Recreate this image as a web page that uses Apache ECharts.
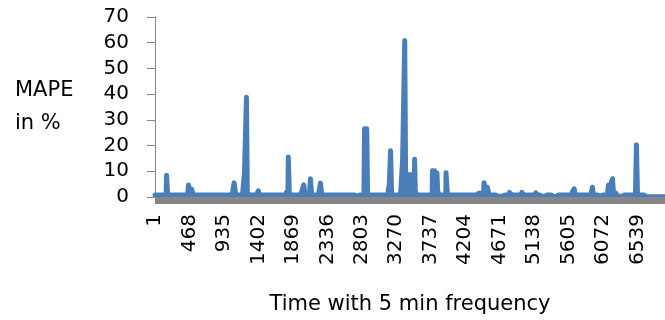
<!DOCTYPE html>
<html>
<head>
<meta charset="utf-8">
<script src="https://cdn.jsdelivr.net/npm/echarts@6/dist/echarts.min.js"></script>
<style>
    html, body { margin: 0; padding: 0; background: #fff; }
    #chart { width: 665px; height: 320px; }
</style>
</head>
<body>
<div id="chart"></div>
<script>
// number of 5-minute samples on the x axis
var pointCount = 6912;
// usual MAPE level between the peaks
var baseValue = 0.75;
// peaks and dips: sample index range (0-based) and value
var runStart = [156, 454, 464, 805, 1050, 1072, 1212, 1239, 1255, 1400, 1780, 1806, 1990, 2016, 2106, 2242, 2730, 2839, 3175, 3192, 3355, 3384, 3396, 3518, 3527, 3760, 3791, 3830, 3944, 4380, 4459, 4474, 4640, 4805, 4972, 5160, 5230, 5395, 5655, 5681, 5928, 6020, 6146, 6200, 6213, 6265, 6524, 6650];
var runEnd   = [170, 463, 518, 820, 1071, 1094, 1238, 1250, 1280, 1415, 1800, 1820, 2015, 2032, 2122, 2257, 2760, 2880, 3191, 3206, 3383, 3395, 3517, 3526, 3545, 3790, 3829, 3850, 3962, 4430, 4473, 4527, 4720, 4830, 4998, 5188, 5280, 5440, 5680, 5695, 5942, 6060, 6199, 6212, 6260, 6330, 6538, 6911];
var runValue = [8.5, 4.7, 3.1, 0.35, 1.6, 5.5, 9.4, 38.8, 1.6, 2.4, 1.8, 15.6, 2.3, 4.7, 7.1, 5.4, 0.05, 26.5, 5, 18, 14.2, 60.9, 8.7, 14.7, 2.4, 10.2, 9.3, 2.4, 9.4, 1.5, 5.5, 3.8, 0.3, 1.8, 1.8, 1.6, 0.2, 0.2, 2.0, 3.2, 3.8, 0.3, 4.7, 7.1, 1.6, 0.2, 20.3, 0.05];

var categories = [];
var mape = [];
for (var i = 0; i < pointCount; i++) {
    categories.push(String(i + 1));
    mape.push(baseValue);
}
for (var r = 0; r < runStart.length; r++) {
    for (var k = runStart[r]; k <= runEnd[r]; k++) {
        mape[k] = runValue[r];
    }
}

var chart = echarts.init(document.getElementById('chart'), null, {renderer: 'canvas'});
var axisGray = '#868686';
var blue = '#4a7ebb';
var font = 'DejaVu Sans';

var option = {
    animation: false,
    grid: {
        left: 155,
        right: 0,
        top: 17,
        bottom: 123,
        containLabel: false
    },
    xAxis: {
        type: 'category',
        data: categories,
        boundaryGap: true,
        z: 10,
        name: 'Time with 5 min frequency',
        nameLocation: 'middle',
        nameGap: 97,
        nameTextStyle: {fontFamily: font, fontSize: 21, color: '#000'},
        axisLine: {lineStyle: {color: axisGray, width: 1}},
        axisTick: {show: true, interval: 0, length: 7, lineStyle: {color: axisGray}},
        axisLabel: {
            interval: 466,
            rotate: 90,
            margin: 17,
            fontFamily: font,
            fontSize: 20,
            color: '#000'
        },
        splitLine: {show: false}
    },
    yAxis: {
        type: 'value',
        min: 0,
        max: 70,
        interval: 10,
        name: 'MAPE\nin %',
        nameLocation: 'middle',
        nameRotate: 0,
        nameGap: 140,
        nameTextStyle: {
            fontFamily: font,
            fontSize: 21,
            color: '#000',
            align: 'left',
            verticalAlign: 'middle',
            lineHeight: 33
        },
        axisLine: {show: true, lineStyle: {color: axisGray, width: 1}},
        axisTick: {show: true, length: 8, lineStyle: {color: axisGray}},
        axisLabel: {margin: 26, fontFamily: font, fontSize: 20, color: '#000'},
        splitLine: {show: false}
    },
    series: [{
        type: 'line',
        data: mape,
        showSymbol: false,
        symbol: 'none',
        silent: true,
        lineStyle: {color: blue, width: 5, cap: 'round', join: 'round'},
        areaStyle: {color: blue, opacity: 1}
    }]
};
chart.setOption(option);
</script>
</body>
</html>
